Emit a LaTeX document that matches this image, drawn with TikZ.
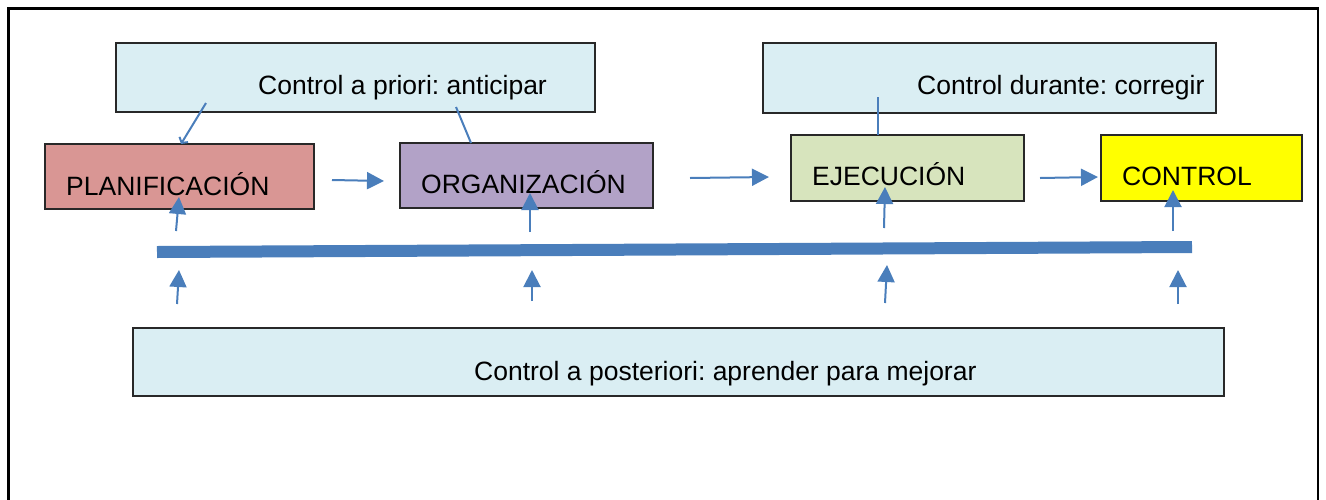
\documentclass[tikz,border=0pt]{standalone}
\usepackage{fontspec}
\setmainfont{Liberation Sans}
\usetikzlibrary{arrows.meta}
\frenchspacing
\definecolor{lblue}{RGB}{218,238,243}
\definecolor{planc}{RGB}{217,150,148}
\definecolor{orgc}{RGB}{178,162,199}
\definecolor{ejec}{RGB}{215,228,189}
\definecolor{ctrlc}{RGB}{255,255,0}
\definecolor{arrc}{RGB}{74,126,187}
\definecolor{bord}{RGB}{40,40,40}
\tikzset{
  box/.style={draw=bord, line width=1.5pt, inner sep=0pt, rectangle},
  txt/.style={anchor=base west, inner sep=0pt, font=\fontsize{26.5}{30}\selectfont},
  arr/.style={draw=arrc, line width=2pt, -{Triangle[length=17pt,width=17pt]}},
  conn/.style={draw=arrc, line width=2pt},
}
\begin{document}
\begin{tikzpicture}[x=1pt,y=-1pt]
\useasboundingbox (0,0) rectangle (1326,499);
% frame
\draw[line width=2.5pt] (8.5,520) -- (8.5,8.5) -- (1318,8.5) -- (1318,520);
% boxes
\node[box, fill=lblue, minimum width=479pt, minimum height=69pt] (pri) at (355.5,77.5) {};
\node[box, fill=lblue, minimum width=453pt, minimum height=70pt] (dur) at (989.5,78) {};
\node[box, fill=planc, minimum width=269pt, minimum height=65pt] (plan) at (179.5,176.5) {};
\node[box, fill=orgc, minimum width=253pt, minimum height=65pt] (org) at (526.5,175.5) {};
\node[box, fill=ejec, minimum width=233pt, minimum height=66pt] (eje) at (907.5,168) {};
\node[box, fill=ctrlc, minimum width=201pt, minimum height=66pt] (ctrl) at (1201.5,168) {};
\node[box, fill=lblue, minimum width=1091pt, minimum height=68pt] (post) at (678.5,362) {};
% texts
\node[txt] (tpri) at (258,94) {Control a priori: anticipar};
\node[txt] (tdur) at (917,94) {Control durante: corregir};
\node[txt] (tplan) at (66,195) {PLANIFICACIÓN};
\node[txt] (torg) at (421,193) {ORGANIZACIÓN};
\node[txt] (teje) at (812,185) {EJECUCIÓN};
\node[txt] (tctrl) at (1122,185) {CONTROL};
\node[txt] (tpost) at (474,380) {Control a posteriori: aprender para mejorar};
% coordinates
\coordinate (barL) at (157,252);
\coordinate (barR) at (1192,247);
\coordinate (h1a) at (332,180); \coordinate (h1b) at (384,181);
\coordinate (h2a) at (690,178); \coordinate (h2b) at (769,177);
\coordinate (h3a) at (1040,178); \coordinate (h3b) at (1098,177);
\coordinate (u1a) at (176,231); \coordinate (u1b) at (179,197);
\coordinate (u2a) at (530,232); \coordinate (u2b) at (530,193);
\coordinate (u3a) at (884,228); \coordinate (u3b) at (885,187);
\coordinate (u4a) at (1173,231); \coordinate (u4b) at (1173,190);
\coordinate (d1a) at (177,304); \coordinate (d1b) at (179,270);
\coordinate (d2a) at (532,301); \coordinate (d2b) at (532,270);
\coordinate (d3a) at (885,303); \coordinate (d3b) at (887,265);
\coordinate (d4a) at (1178,304); \coordinate (d4b) at (1178,270);
\coordinate (l1a) at (206,103); \coordinate (l1b) at (181,144);
\coordinate (l2a) at (456,107); \coordinate (l2b) at (471,143);
\coordinate (l3a) at (878,97); \coordinate (l3b) at (878,135);
% bar
\draw[arrc, line width=12pt] (barL) -- (barR);
% horizontal arrows
\draw[arr] (h1a) -- (h1b);
\draw[arr] (h2a) -- (h2b);
\draw[arr] (h3a) -- (h3b);
% up arrows
\draw[arr] (u1a) -- (u1b);
\draw[arr] (u2a) -- (u2b);
\draw[arr] (u3a) -- (u3b);
\draw[arr] (u4a) -- (u4b);
\draw[arr] (d1a) -- (d1b);
\draw[arr] (d2a) -- (d2b);
\draw[arr] (d3a) -- (d3b);
\draw[arr] (d4a) -- (d4b);
% connector lines
\draw[conn, -{Straight Barb[length=4pt,width=10pt]}] (l1a) -- (l1b);
\draw[conn] (l2a) -- (l2b);
\draw[conn] (l3a) -- (l3b);
\end{tikzpicture}
\end{document}
